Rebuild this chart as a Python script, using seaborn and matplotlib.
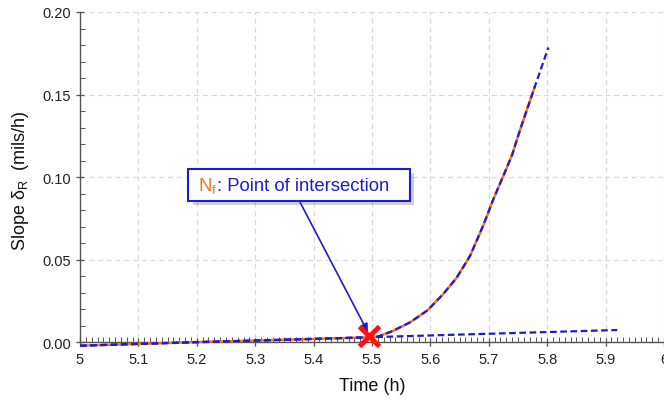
import numpy as np
import pandas as pd
import matplotlib
matplotlib.use("Agg")
import matplotlib.pyplot as plt
import matplotlib.patheffects as pe
from matplotlib.offsetbox import TextArea, HPacker, AnnotationBbox, DrawingArea
from matplotlib.ticker import MultipleLocator, FuncFormatter
import seaborn as sns

# Measured slope (orange) over time
time_obs = [5.000, 5.100, 5.200, 5.300, 5.400, 5.480, 5.510, 5.535, 5.565, 5.595,
            5.622, 5.645, 5.668, 5.690, 5.708, 5.725, 5.740, 5.753, 5.779]
slope_obs = [-0.0022, -0.0011, 0.0000, 0.0009, 0.0019, 0.0027, 0.0033, 0.0066, 0.0119,
             0.0192, 0.0291, 0.0390, 0.0523, 0.0702, 0.0867, 0.1008, 0.1135, 0.1280,
             0.1550]

# Fitted curve (blue dashed), extended slightly beyond the data
time_fit = time_obs + [5.802]
slope_fit = slope_obs + [0.1785]

# Linear trend of the early stage (blue dashed)
time_lin = [5.00, 5.92]
slope_lin = [-0.0022, 0.0073]

# Intersection point N_f
nf_time = 5.495
nf_slope = 0.0035

x_ticks = [5.0, 5.1, 5.2, 5.3, 5.4, 5.5, 5.6, 5.7, 5.8, 5.9, 6.0]
y_ticks = [0.00, 0.05, 0.10, 0.15, 0.20]

sns.set_style("white")
plt.rcParams["font.family"] = ["Liberation Sans", "DejaVu Sans"]
plt.rcParams["mathtext.default"] = "regular"

ORANGE = "#ff7417"
BLUE = "#1c1cd6"

fig = plt.figure(figsize=(6.64, 4.02), dpi=100)
ax = fig.add_axes([80 / 664, 1 - 348 / 402, 584 / 664, 335 / 402])

obs = pd.DataFrame({"time": time_obs, "slope": slope_obs})
fit = pd.DataFrame({"time": time_fit, "slope": slope_fit})
lin = pd.DataFrame({"time": time_lin, "slope": slope_lin})

sns.lineplot(data=obs, x="time", y="slope", ax=ax, color=ORANGE, lw=1.8, zorder=3)
sns.lineplot(data=fit, x="time", y="slope", ax=ax, color=BLUE, lw=1.6, zorder=4)
ax.lines[-1].set_dashes((3, 1.6))
sns.lineplot(data=lin, x="time", y="slope", ax=ax, color=BLUE, lw=1.6, zorder=4)
ax.lines[-1].set_dashes((3, 1.6))

ax.plot([nf_time], [nf_slope], marker="x", color="#ff1010", ms=14, mew=3.5,
        zorder=6, linestyle="none")

ax.set_xlim(5.0, 6.0)
ax.set_ylim(-0.003, 0.2)

ax.set_xticks(x_ticks)
ax.set_yticks(y_ticks)
ax.xaxis.set_major_formatter(FuncFormatter(lambda v, p: f"{v:g}"))
ax.yaxis.set_major_formatter(FuncFormatter(lambda v, p: f"{v:.2f}"))
ax.xaxis.set_minor_locator(MultipleLocator(0.01))
ax.yaxis.set_minor_locator(MultipleLocator(0.01))

ax.spines["top"].set_visible(False)
ax.spines["right"].set_visible(False)
ax.spines["bottom"].set_position(("data", 0))
ax.spines["left"].set_bounds(0, 0.2)
for s in ("left", "bottom"):
    ax.spines[s].set_color("#555555")
    ax.spines[s].set_linewidth(1.0)

ax.tick_params(which="both", bottom=True, left=True, top=False, right=False)
ax.tick_params(which="major", direction="inout", length=6, width=0.9,
               color="#555555", labelsize=10.5, labelcolor="#222222")
ax.tick_params(which="minor", direction="in", length=3.5, width=0.7, color="#555555")
ax.tick_params(axis="x", which="major", pad=4)

ax.grid(True, which="major", color="#d9d9d9", linestyle=(0, (4, 3)), lw=0.9)
ax.set_axisbelow(True)

ax.set_xlabel("Time (h)", fontsize=13, color="#111111", labelpad=8)
ax.set_ylabel("Slope δ$_R$  (mils/h)", fontsize=13, color="#111111", labelpad=8)

# Callout box with arrow to the intersection point
ax.annotate("", xy=(nf_time - 0.002, nf_slope + 0.0025), xytext=(5.3767, 0.0848),
            arrowprops=dict(arrowstyle="-|>", color=BLUE, lw=1.2,
                            mutation_scale=12, shrinkA=0, shrinkB=0), zorder=5)

ta1 = TextArea("N$_f$", textprops=dict(color=ORANGE, fontsize=13.3))
ta2 = TextArea(": Point of intersection", textprops=dict(color=BLUE, fontsize=13.3))
pack = HPacker(children=[DrawingArea(2.3, 1), ta1, ta2, DrawingArea(10, 1)],
               align="baseline", pad=0, sep=0)
ab = AnnotationBbox(pack, (5.375, 0.0953), xycoords="data", frameon=True,
                    box_alignment=(0.5, 0.5),
                    bboxprops=dict(boxstyle="square,pad=0.45", fc="white",
                                   ec=BLUE, lw=1.5))
ab.patch.set_path_effects([pe.SimplePatchShadow(offset=(3, -3), alpha=0.3,
                                                 shadow_rgbFace="#666666"),
                           pe.Normal()])
ab.set_zorder(7)
ax.add_artist(ab)

fig.savefig("out.png", dpi=100)
